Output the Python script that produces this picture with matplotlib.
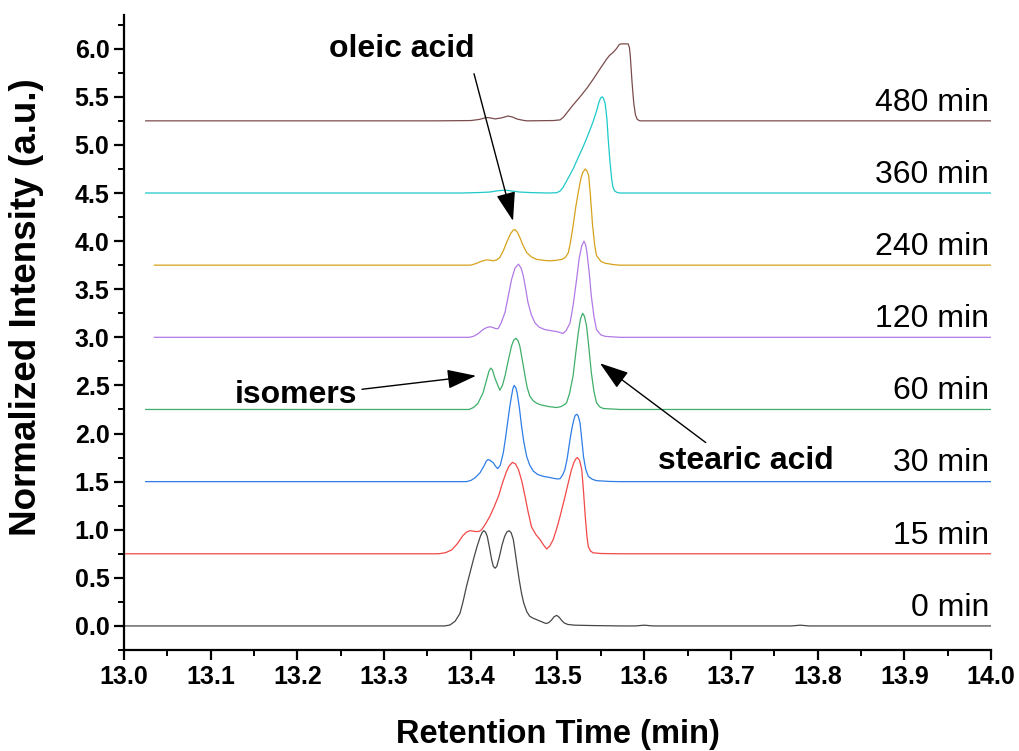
import matplotlib.pyplot as plt
from matplotlib.ticker import MultipleLocator

plt.rcParams['font.family'] = ['Liberation Sans', 'DejaVu Sans']

# retention time (min) / normalized intensity, one pair per reaction time
t_0 = [13.0, 13.37, 13.376, 13.382, 13.3875, 13.391, 13.395, 13.399, 13.403, 13.407,
       13.411, 13.413, 13.415, 13.417, 13.419, 13.421, 13.424, 13.426, 13.428, 13.43,
       13.433, 13.436, 13.439, 13.4415, 13.444, 13.4465, 13.449, 13.451, 13.4535,
       13.456, 13.4585, 13.461, 13.4645, 13.468, 13.472, 13.476, 13.48, 13.484,
       13.487, 13.49, 13.493, 13.496, 13.499, 13.502, 13.505, 13.508, 13.512, 13.52,
       13.54, 13.572, 13.59, 13.6, 13.61, 13.77, 13.78, 13.79, 14.0]
i_0 = [0.0, 0.0, 0.01, 0.05, 0.13, 0.25, 0.41, 0.55, 0.69, 0.82,
       0.93, 0.97, 0.99, 0.975, 0.93, 0.84, 0.69, 0.62, 0.60, 0.62,
       0.72, 0.84, 0.93, 0.975, 0.99, 0.97, 0.90, 0.78, 0.62,
       0.47, 0.34, 0.24, 0.15, 0.10, 0.08, 0.065, 0.05, 0.035,
       0.025, 0.035, 0.06, 0.095, 0.11, 0.09, 0.055, 0.03, 0.015, 0.008,
       0.004, 0.0, 0.0, 0.008, 0.0, 0.0, 0.008, 0.0, 0.0]

t_15 = [13.0, 13.36, 13.3645, 13.371, 13.378, 13.384, 13.391, 13.395, 13.399, 13.403,
        13.407, 13.41, 13.4125, 13.417, 13.422, 13.427, 13.432, 13.436, 13.4405,
        13.444, 13.448, 13.4515, 13.455, 13.459, 13.4625, 13.466, 13.47, 13.475,
        13.48, 13.484, 13.4875, 13.491, 13.495, 13.499, 13.503, 13.508, 13.5125,
        13.516, 13.519, 13.521, 13.523, 13.5255, 13.528, 13.53, 13.532, 13.534,
        13.5355, 13.538, 13.541, 13.55, 13.572, 14.0]
i_15 = [0.0, 0.0, 0.002, 0.012, 0.04, 0.10, 0.19, 0.225, 0.24, 0.235,
        0.23, 0.235, 0.25, 0.31, 0.39, 0.49, 0.60, 0.72, 0.84,
        0.91, 0.95, 0.935, 0.875, 0.75, 0.60, 0.44, 0.28, 0.20,
        0.146, 0.09, 0.05, 0.08, 0.146, 0.26, 0.39, 0.57, 0.74,
        0.87, 0.95, 0.985, 1.0, 0.97, 0.875, 0.65, 0.39, 0.18,
        0.075, 0.03, 0.01, 0.003, 0.0, 0.0]

t_30 = [13.025, 13.395, 13.4, 13.405, 13.4105, 13.415, 13.418, 13.42, 13.4225, 13.426,
        13.4285, 13.431, 13.434, 13.4375, 13.44, 13.443, 13.445, 13.447, 13.4485,
        13.45, 13.452, 13.4535, 13.456, 13.4585, 13.461, 13.4645, 13.468, 13.472,
        13.477, 13.4835, 13.49, 13.495, 13.5, 13.503, 13.506, 13.5085, 13.511,
        13.5145, 13.517, 13.519, 13.5205, 13.5225, 13.524, 13.526, 13.528, 13.53,
        13.5325, 13.5355, 13.54, 13.545, 13.56, 13.572, 14.0]
i_30 = [0.0, 0.0, 0.012, 0.04, 0.09, 0.16, 0.215, 0.23, 0.22, 0.195,
        0.16, 0.135, 0.17, 0.30, 0.45, 0.65, 0.78, 0.89, 0.965,
        1.0, 0.975, 0.92, 0.77, 0.58, 0.42, 0.26, 0.17, 0.11,
        0.075, 0.055, 0.045, 0.035, 0.028, 0.03, 0.07, 0.125, 0.23,
        0.44, 0.57, 0.65, 0.69, 0.70, 0.68, 0.61, 0.44, 0.26,
        0.13, 0.055, 0.025, 0.01, 0.002, 0.0, 0.0]

t_60 = [13.025, 13.398, 13.403, 13.408, 13.414, 13.418, 13.421, 13.423, 13.425, 13.427,
        13.4285, 13.4335, 13.4365, 13.4395, 13.443, 13.447, 13.4495, 13.452, 13.4545,
        13.4565, 13.4595, 13.4625, 13.465, 13.468, 13.472, 13.476, 13.48, 13.49,
        13.499, 13.504, 13.508, 13.5105, 13.514, 13.518, 13.521, 13.524, 13.5265,
        13.529, 13.531, 13.5335, 13.536, 13.539, 13.542, 13.545, 13.549, 13.553,
        13.572, 14.0]
i_60 = [0.0, 0.0, 0.02, 0.06, 0.17, 0.30, 0.40, 0.43, 0.41, 0.35,
        0.31, 0.20, 0.25, 0.35, 0.50, 0.66, 0.72, 0.74, 0.715,
        0.66, 0.51, 0.35, 0.23, 0.14, 0.09, 0.065, 0.05, 0.03,
        0.02, 0.03, 0.05, 0.07, 0.17, 0.35, 0.58, 0.80, 0.94,
        1.0, 0.97, 0.87, 0.66, 0.385, 0.19, 0.07, 0.025, 0.01,
        0.0, 0.0]

t_120 = [13.035, 13.398, 13.403, 13.408, 13.414, 13.418, 13.422, 13.426, 13.429, 13.4315,
         13.435, 13.4395, 13.443, 13.447, 13.451, 13.455, 13.458, 13.4605, 13.463,
         13.466, 13.47, 13.474, 13.479, 13.4855, 13.492, 13.499, 13.5065, 13.51,
         13.5145, 13.518, 13.522, 13.525, 13.528, 13.5305, 13.5325, 13.534, 13.5365,
         13.539, 13.542, 13.545, 13.55, 13.555, 13.572, 14.0]
i_120 = [0.0, 0.0, 0.01, 0.035, 0.08, 0.10, 0.11, 0.10, 0.09, 0.09,
         0.15, 0.26, 0.42, 0.60, 0.72, 0.76, 0.72, 0.64, 0.52,
         0.36, 0.23, 0.15, 0.105, 0.08, 0.07, 0.06, 0.04, 0.07,
         0.15, 0.33, 0.60, 0.82, 0.95, 1.0, 0.96, 0.88, 0.68,
         0.43, 0.22, 0.08, 0.025, 0.01, 0.0, 0.0]

t_240 = [13.035, 13.4, 13.407, 13.412, 13.418, 13.422, 13.426, 13.43, 13.4335, 13.4375,
         13.4415, 13.446, 13.449, 13.451, 13.4535, 13.4565, 13.46, 13.4645, 13.47,
         13.476, 13.484, 13.4915, 13.498, 13.505, 13.509, 13.5125, 13.515, 13.518,
         13.521, 13.524, 13.527, 13.529, 13.532, 13.534, 13.536, 13.538, 13.5405,
         13.543, 13.545, 13.55, 13.555, 13.565, 13.572, 14.0]
i_240 = [0.0, 0.0, 0.02, 0.04, 0.055, 0.052, 0.045, 0.055, 0.08, 0.15,
         0.24, 0.33, 0.365, 0.37, 0.345, 0.29, 0.21, 0.13, 0.085,
         0.06, 0.05, 0.045, 0.05, 0.06, 0.08, 0.13, 0.24, 0.41,
         0.60, 0.76, 0.90, 0.96, 1.0, 0.98, 0.93, 0.72, 0.41,
         0.20, 0.10, 0.04, 0.02, 0.005, 0.0, 0.0]

t_360 = [13.025, 13.39, 13.41, 13.422, 13.43, 13.4395, 13.448, 13.4565, 13.47, 13.49,
         13.499, 13.503, 13.5065, 13.512, 13.518, 13.524, 13.53, 13.5355, 13.541,
         13.545, 13.548, 13.55, 13.5515, 13.553, 13.555, 13.557, 13.5585, 13.5605,
         13.5625, 13.564, 13.566, 13.569, 13.572, 14.0]
i_360 = [0.0, 0.0, 0.005, 0.01, 0.022, 0.03, 0.02, 0.01, 0.004, 0.0,
         0.003, 0.02, 0.06, 0.15, 0.25, 0.37, 0.49, 0.61, 0.74,
         0.85, 0.95, 0.99, 1.0, 0.985, 0.93, 0.77, 0.56, 0.33,
         0.145, 0.06, 0.02, 0.005, 0.0, 0.0]

t_480 = [13.025, 13.36, 13.4, 13.41, 13.418, 13.423, 13.428, 13.435, 13.443, 13.448,
         13.453, 13.46, 13.4645, 13.495, 13.503, 13.507, 13.5105, 13.518, 13.526,
         13.534, 13.541, 13.549, 13.5565, 13.56, 13.564, 13.568, 13.571, 13.573,
         13.5815, 13.583, 13.584, 13.586, 13.588, 13.59, 13.592, 13.595, 14.0]
i_480 = [0.0, 0.0, 0.003, 0.015, 0.035, 0.03, 0.02, 0.03, 0.05, 0.04,
         0.02, 0.006, 0.0, 0.003, 0.01, 0.04, 0.08, 0.165, 0.25,
         0.34, 0.43, 0.54, 0.64, 0.68, 0.71, 0.75, 0.79, 0.80,
         0.80, 0.76, 0.67, 0.40, 0.18, 0.06, 0.015, 0.0, 0.0]

labels = ['0 min', '15 min', '30 min', '60 min', '120 min', '240 min', '360 min', '480 min']
offsets = [0.0, 0.75, 1.5, 2.25, 3.0, 3.75, 4.5, 5.25]
colors = ['#474747', '#f24848', '#2f7de6', '#3fae6a', '#b27ae6', '#d6a21c', '#1ec9c9', '#7a4c4c']
times = [t_0, t_15, t_30, t_60, t_120, t_240, t_360, t_480]
intens = [i_0, i_15, i_30, i_60, i_120, i_240, i_360, i_480]

fig = plt.figure(figsize=(10.19, 7.51), dpi=100)
ax = fig.add_axes([0.1217, 0.1345, 0.8508, 0.8455])

for t, y, off, c, lab in zip(times, intens, offsets, colors, labels):
    ax.plot(t, [v + off for v in y], color=c, lw=0.9)
    ax.text(13.998, off + 0.19, lab, ha='right', va='center', fontsize=23)

ax.set_xlim(13.0, 14.0)
ax.set_ylim(-0.25, 6.35)
ax.xaxis.set_major_locator(MultipleLocator(0.1))
ax.xaxis.set_minor_locator(MultipleLocator(0.05))
ax.yaxis.set_major_locator(MultipleLocator(0.5))
ax.yaxis.set_minor_locator(MultipleLocator(0.25))
ax.xaxis.set_major_formatter(plt.FormatStrFormatter('%.1f'))
ax.yaxis.set_major_formatter(plt.FormatStrFormatter('%.1f'))

for side in ['top', 'right']:
    ax.spines[side].set_visible(False)
for side in ['left', 'bottom']:
    ax.spines[side].set_linewidth(1.6)
ax.tick_params(which='major', direction='out', length=7, width=1.6, labelsize=18)
ax.tick_params(which='minor', direction='out', length=4.5, width=1.4)
for lbl in ax.get_xticklabels() + ax.get_yticklabels():
    lbl.set_fontweight('bold')

ax.set_xlabel('Retention Time (min)', fontsize=23.5, fontweight='bold', labelpad=22)
ax.set_ylabel('Normalized Intensity (a.u.)', fontsize=26.5, fontweight='bold')
ax.yaxis.set_label_coords(-0.092, 0.54)

arrow = dict(arrowstyle='-|>,head_length=0.9,head_width=0.3', color='black', lw=1,
             mutation_scale=20, shrinkA=0, shrinkB=0)
ax.text(13.3207, 6.0, 'oleic acid', ha='center', va='center', fontsize=23, fontweight='bold')
ax.annotate('', xy=(13.4487, 4.21), xytext=(13.4037, 5.74), arrowprops=arrow)
ax.text(13.198, 2.40, 'isomers', ha='center', va='center', fontsize=23, fontweight='bold')
ax.annotate('', xy=(13.406, 2.60), xytext=(13.2745, 2.46), arrowprops=arrow)
ax.text(13.7174, 1.71, 'stearic acid', ha='center', va='center', fontsize=23, fontweight='bold')
ax.annotate('', xy=(13.549, 2.73), xytext=(13.671, 1.906), arrowprops=arrow)

fig.savefig('out.png', dpi=100)
